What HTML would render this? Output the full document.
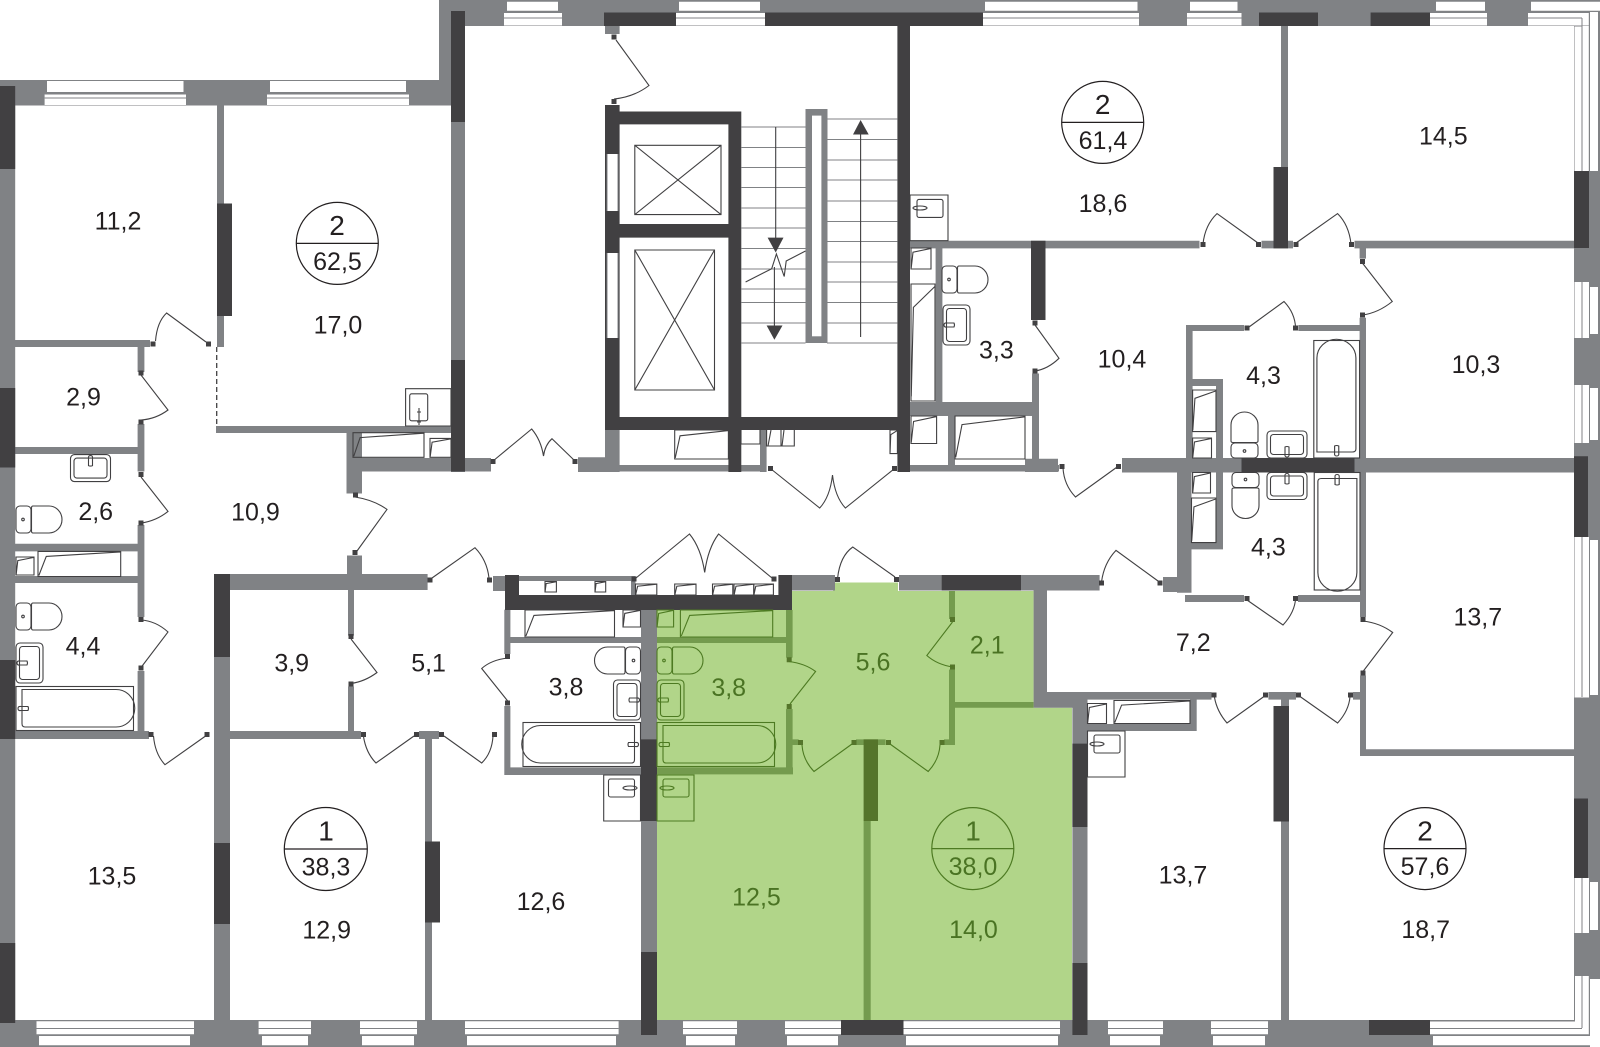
<!DOCTYPE html>
<html><head><meta charset="utf-8"><title>Floor plan</title>
<style>
html,body{margin:0;padding:0;background:#fff}
svg{display:block}
.l{fill:none;stroke:#414042;stroke-width:1.1}
.lg{fill:none;stroke:#4d7a22;stroke-width:1.1}
.gl{stroke:#808285;stroke-width:1;fill:none}
text{font-family:"Liberation Sans",Arial,sans-serif;font-size:25px;fill:#231f20;text-anchor:middle}
.n{font-size:28px}
.gt text{fill:#4a7323}
</style></head><body>
<svg width="1600" height="1047" viewBox="0 0 1600 1047" xmlns="http://www.w3.org/2000/svg">
<defs>
<symbol id="c" viewBox="0 0 100 100" preserveAspectRatio="none" overflow="visible">
<path vector-effect="non-scaling-stroke" d="M0 0H100V100H0ZM1 96L10 20L100 2"/>
</symbol>
<g id="t"><rect width="15" height="27" rx="4"/><path d="M17 0H33A13 13.5 0 0 1 33 27H17Q15.5 27 15.5 25V2Q15.5 0 17 0Z"/><circle cx="7" cy="13.5" r="1.3"/></g>
<g id="s"><rect width="27" height="40" rx="4"/><rect x="3.5" y="3.5" width="20" height="33" rx="3"/><path d="M1 20Q1 17.5 4 18H11Q12 20 11 22H4Q1 22.5 1 20Z"/></g>
<g id="b"><rect width="117.5" height="44"/><path d="M6 3H100A18.5 18.5 0 0 1 100 40.5H9Q6 40.5 6 37Z"/><path d="M2 22Q2 19.5 5 20H12Q13 22 12 24H5Q2 24.5 2 22Z"/></g>
</defs>
<rect width="1600" height="1047" fill="#fff"/>

<path fill="#b1d589" d="M657 610H792V591H833V582.5H898V591H1033.6V707.8H1072V1020H657Z"/>

<path fill="#808285" d="M0 80h451v25.5H0zM439 0h1161v26H439zM439 0h26v90h-26zM451 11h14v461h-14zM0 80h15.2v967H0zM1574 0h26v1047h-26zM0 1020h1600v27H0z
M217 105h7v242h-7zM15 340h135v7H15zM137.6 347h6.8v25h-6.8zM137.6 424h6.8v47.5h-6.8zM137.6 525h6.8v92h-6.8zM137.6 671h6.8v61h-6.8zM15 447h122.6v7H15zM15 543.7h122.6v7.7H15zM15 576h122.6v7H15zM15 731h134v8H15z
M214 574h16v446h-16zM230 574h197.6v16H230zM347 555.5h15V574h-15zM348 590h6v45.6h-6zM348 686.5h6v45h-6zM230 731h131v8H230zM419 731h20v8h-20zM425 739h7v281h-7z
M504.3 609.6h6.1V654h-6.1zM504.3 706h6.1v67h-6.1zM504.3 767.4h137v7.6h-137zM510 637h131.5v6H510zM493 576h12v15h-12zM519 576h116.5v5H519zM631 576h4.5v19H631zM641 610h16v410h-16z
M216 426h235v7H216zM346.5 433H362v60.5h-15.5zM346.5 458H491v13.5H346.5zM578 457.3h27V472h-27zM605 429h14.6v43H605zM619.6 465h147v6.5h-147zM760 430h6.6v42H760zM605 26h14.6v8H605zM805.5 109h22v234h-22z
M910 240.7h289.5v7.7H910zM935.6 248h6.8v154h-6.8zM910 402h125v14H910zM948 416h7v50h-7zM1032 373.5h7V472h-7zM910 465h149v6.5H910zM1025 458.7h33V472h-33zM1261.5 240.7h31.5v7.7h-31.5zM1281 26h7v141h-7zM1354.5 240.7H1574v7.7h-219.5z
M1359.6 248h6.4v10.6h-6.4zM1359.6 317.7h6.4V458h-6.4zM1186 325h58v6h-58zM1298.3 325h61.7v6h-61.7zM1186 325h6.6v133H1186zM1192.6 379H1223v7h-30.4zM1216 379h7v79h-7zM1122 458h452v14.500H1122zM1177 472h14.500v120.700H1177zM1163 577h28.5v15H1163zM1185 595h59v7h-59zM1298 595h62v7h-62zM1216 472h7v77.4h-7zM1191.5 542.6H1223v6.8h-31.5z
M1360 472h6v145h-6zM1360 675.5h6v80h-6zM1360 749.3h214v6.7h-214zM1033.6 692h177.900v7.600h-177.900zM1033.6 699h38.8v8.800h-38.800zM1268.4 692h27.6v7.600h-27.600zM1353 692h7v7.600h-7zM1281 699h8v321h-8zM1072.4 692h15.100v355h-15.100zM1087.5 724h109.2v7h-109.2zM1190 699.500h6.700V731H1190zM1033.6 575H1047v132.800h-13.400zM899 575h200.600v15.500H899zM792 575h43v15.500h-43z"/>

<path fill="#749b4e" d="M657 637h135v6H657zM657 767.4h136v7H657zM786 610h6.600v47.600H786zM786 709h6.600v65H786zM792.6 739.400h6.100V745h-6.100zM856 739.400h29.600V745H856zM863.6 821h7.100v199h-7.100zM944 739.400h11V745h-11zM949 591h6v28h-6zM949 669.500h6V745h-6zM955 702h78.600v5.800H955z"/>
<path fill="#55752b" d="M863.6 739.400H878V821h-14.400z"/>

<path fill="#fff" d="M507 1.7h51v9.100h-51zM679 1.7h81v9.100h-81zM985 1.7h152.500v9.100H985zM1190 1.7h47.500v9.100H1190zM1436 1.7h49v9.100h-49zM1531 1.7h69v9.100h-69z
M504 12.500h58v13h-58zM676 12.500h89v13h-89zM983 12.500h156v13H983zM1187 12.500h54.500v13H1187zM1430 12.500h57v13h-57zM1528 12.500h61v13h-61z
M47 81h136.500v11H47zM270 81h136v11H270zM44.6 94.300H186V105H44.6zM267 94.300h142V105H267z
M1574.5 26H1589v145h-14.500zM1590 12h8v159h-8zM1574.5 282H1589v56h-14.500zM1590 287h8v47h-8zM1574.5 385H1589v58h-14.500zM1590 388h8v52h-8zM1574.5 537H1589v160.500h-14.500zM1590 540h8v155h-8zM1574.5 878H1589v55h-14.500zM1590 882h8v48h-8zM1574.5 976H1589v58h-14.500zM1590 979h10v68h-10z
M36.5 1021.300H194v13H36.5zM258.6 1021.300H311v13h-52.400zM360 1021.300h57v13h-57zM465 1021.300h153.600v13H465zM683 1021.300h54v13h-54zM785 1021.300h56v13h-56zM903.5 1021.300H1060v13H903.500zM1108 1021.300h55v13h-55zM1211 1021.300h57v13h-57zM1430 1021.300h159v13h-159z
M39 1036h151v9.300H39zM262 1036h46v9.300h-46zM362 1036h52v9.300h-52zM467 1036h149v9.300H467zM686 1036h49v9.300h-49zM787 1036h51v9.300h-51zM906 1036h152v9.300H906zM1110 1036h50v9.300h-50zM1213 1036h52v9.300h-52zM1433 1036h167v9.300h-167z"/>
<path class="gl" d="M504 18h58M676 18h89M983 18h156M1187 18h54.500M1430 18h57M1528 18h54M504 12.500h58M676 12.500h89M983 12.500h156M1187 12.500h54.500M1430 12.500h57M1528 12.500h61
M44.6 98H186M267 98h142M44.6 94h141.400M267 94h142
M1582 18v153M1589.300 12v159M1582 282v56M1582 385v58M1582 537v160M1582 878v55M1582 976v52M1589.300 976v58M1574 26h8
M36.5 1028.500H194M258.6 1028.500H311M360 1028.500h57M465 1028.500h153.600M683 1028.500h54M785 1028.500h56M903.5 1028.500H1060M1108 1028.500h55M1211 1028.500h57M1430 1028.500h152M1430 1021h144.500v-45"/>

<path fill="#414042" d="M0 86h15.200v83H0zM0 388h15.200v79.500H0zM0 660h15.200v79H0zM0 943h15.200v80H0zM217 203.500h15V316h-15zM451 11h14v111h-14zM451 360h14v111.500h-14zM214 574h16v83h-16zM214 843h16v81h-16zM425 841.500h15v81h-15z
M604 12.500h72V26h-72zM765 12.500h218V26H765zM897.4 12.500H910V472h-12.600zM605 105h14.600v324H605zM605 111.500h136.300v12.900H605zM728.4 111.500h12.900V472h-12.900zM605 224h136.300v13.600H605zM605 417h305v13H605zM1031 240.700h14.500V320H1031zM1273.5 167H1288v81.400h-14.500zM1259 12.500h59V26h-59zM1370.6 12.500h59.400V26h-59.400zM1574 171h15v77h-15zM1241.5 458h113v14.500h-113zM1574 456.300h14V537h-14z
M1574 798.500h14v79.500h-14zM1369 1020h61v15h-61zM841 1020h62.500v15H841zM1273.5 706H1289v115.500h-15.500zM1072.4 743.600h15.100V827h-15.100zM1072.4 963h15.100v72h-15.100zM505 575h14v35h-14zM505 595h287v15H505zM778.4 575H792v20h-13.600zM641 739.400h16V821h-16zM641 952h16v83h-16zM941.7 575H1021v15.500h-79.300z"/>
<path fill="#fff" d="M607 154h11v57h-11zM607 253h11v85h-11z"/>
<path class="gl" d="M607 154v57M618 154v57M607 253v85M618 253v85"/>

<path class="gl" stroke="#6d6e71" d="M741 127h64.500M741 147.500h64.500M741 167.500h64.500M741 187.500h64.500M741 208h64.500M741 228h64.500M741 248.500h64.500M741 269h64.500M741 289h64.500M741 302.500h64.500M741 323h64.500M741 343h64.500M827 119h70.400M827 139.500h70.400M827 160h70.400M827 180h70.400M827 201h70.400M827 221.500h70.400M827 241.500h70.400M827 262h70.400M827 282h70.400M827 302.500h70.400M827 323h70.400M827 343h70.400"/>
<rect fill="#fff" x="812" y="115.600" width="9.400" height="220.700"/>
<path class="l" d="M860.6 126.800V337M775.7 127V240M774.4 267V328M745.6 282L771.700 268.700L776.400 254L784.200 276.500L786.200 261L805.500 251"/>
<path fill="#414042" d="M860.6 120L868.700 134.500H853ZM767.6 237.600H783.500L775.700 252.500ZM766.6 325.500H782.500L774.400 339.700Z"/>
<path class="l" d="M634.8 145.300H721V214.600H634.800ZM634.8 145.300L721 214.600M721 145.300L634.800 214.600M634.8 250H714.500V390H634.800ZM634.8 250L714.500 390M714.500 250L634.800 390"/>

<path fill="#414042" d="M150.5 341.500h5v5h-5zM206 341.500h5v5h-5zM138.5 370.500h5v5h-5zM138.5 419.500h5v5h-5zM138.5 472h5v5h-5zM138.5 520.500h5v5h-5zM138.5 617h5v5h-5zM138.5 665.500h5v5h-5zM148.5 732h5v5h-5zM204.5 732h5v5h-5zM353 492.500h5v5h-5zM352.5 550h5v5h-5zM490.5 459h5v5h-5zM572.5 459h5v5h-5zM611.5 34.500h5v5h-5zM611.5 99h5v5h-5zM768 466h5v5h-5zM892 466h5v5h-5zM1032.5 320.500h5v5h-5zM1032.5 368.500h5v5h-5zM1200.5 242h5v5h-5zM1256 242h5v5h-5zM1293.5 242h5v5h-5zM1349 242h5v5h-5zM1360 259h5v5h-5zM1360 312.500h5v5h-5zM1244.5 325.500h5v5h-5zM1293 325.500h5v5h-5zM1116 464h5v5h-5zM1059.5 464h5v5h-5zM1244.5 596h5v5h-5zM1293 596h5v5h-5zM1360.5 617h5v5h-5zM1360.5 670.500h5v5h-5zM1211.5 692.500h5v5h-5zM1263 692.500h5v5h-5zM1296 692.500h5v5h-5zM1348 692.500h5v5h-5zM1099 580.500h5v5h-5zM1157.5 580.500h5v5h-5zM835 577h5v5h-5zM894 577h5v5h-5zM631.5 576.500h5v5h-5zM771.5 576.500h5v5h-5zM427.5 577.500h5v5h-5zM487 577.500h5v5h-5zM348.5 634h5v5h-5zM348.5 681.500h5v5h-5zM505 654h5v5h-5zM505 700.500h5v5h-5zM361 732h5v5h-5zM414 732h5v5h-5zM439 732h5v5h-5zM492 732h5v5h-5z"/>
<path fill="#55752b" d="M786.7 657.300h5v5h-5zM786.7 704h5v5h-5zM798 740h5v5h-5zM851.5 740h5v5h-5zM886 740h5v5h-5zM939.5 740h5v5h-5zM950 617h5v5h-5zM950 664.500h5v5h-5z"/>

<path class="l" d="M206 342L166.600 313Q157 322 155.500 341M141 375L168 410Q156 419 141 420M141 477L168 511.400Q156 521 141 523M141 667.500L168 632Q156 621 141 620M207 735L165 764.700Q155 754 153.500 736M355 497Q374 500 387 509.400L357 551M493 461L531.700 429Q541 440 543.500 456Q545 445 552 438.700L575 461M616 40L649 85.500Q634 97 614 99M771 469L819.700 508Q830 497 832.500 475Q835 497 845.400 508L894 469M1035 325L1059 358.300Q1048 369 1035 371M1203 244Q1205 225 1217 213.600L1258 243M1296 243L1337.600 213.600Q1349 225 1351 244M1362.400 263L1392.300 301.500Q1378 313 1362.400 315M1249 327L1284 301.500Q1295 313 1295.600 328M1118.500 466L1075.500 497Q1064 485 1063 468M1247 600L1283 625Q1295 612 1295.600 598M1363 621Q1380 623 1392.700 632.500L1363 671.500M1214.500 697.500Q1217 711.500 1227 723L1264 696.500M1300 696.500L1337.600 723Q1349 710.500 1350 696.500M1101.500 582Q1104 563 1116 550.400L1158 581M837.600 578Q840 556 852.800 547L895 577M636 578L689.500 534Q701 548 704.700 572.400Q708 548 718.600 534L772 578M432 578L475 547.700Q487 560 489 578M351 639L377 672.500Q365 681.500 351 683.500M507.700 658Q491 660 481.700 668.500L507.700 701M363.400 736Q366 753 376 763L414 736M444 736L481.700 763Q492 753 493 736"/>
<path class="lg" d="M789 661.500Q805 663.500 815.600 671.500L790 704M852 744L814 771.500Q803 760 802 745M890 744L928.200 771.500Q939 760 940 745M952.500 622L926.800 655.500Q937 664.500 952.500 667"/>
<path d="M216.700 347V426" stroke="#414042" stroke-width="1.3" stroke-dasharray="5 3" fill="none"/>

<g class="l">
<use href="#c" x="353" y="432.7" width="71" height="24.6"/>
<use href="#c" x="430" y="438.4" width="21" height="18.9"/>
<use href="#c" x="674.7" y="430" width="53.7" height="29"/>
<path d="M741 430v14h19v-14M766.6 430v16h27.700v-16M781 430v16M771 430l-3 16M784 430l-2 16"/>
<use href="#c" x="890" y="430" width="7.4" height="23.6"/>
<use href="#c" x="911" y="248" width="20" height="21"/>
<use href="#c" x="911" y="284" width="24" height="117"/>
<use href="#c" x="911" y="416" width="25.6" height="27.5"/>
<use href="#c" x="955" y="416" width="70" height="43"/>
<use href="#c" x="1192.6" y="390" width="23.4" height="41.6"/>
<use href="#c" x="1192.6" y="438" width="18.9" height="20"/>
<use href="#c" x="1192.6" y="472.5" width="17.9" height="20.5"/>
<use href="#c" x="1191.5" y="498" width="24.5" height="44.6"/>
<use href="#c" x="1087.5" y="703.5" width="19" height="20"/>
<use href="#c" x="1114" y="700.5" width="76" height="23"/>
<use href="#c" x="16" y="557" width="18" height="18"/>
<use href="#c" x="38" y="551.4" width="82.7" height="25.1"/>
<use href="#c" x="525" y="610" width="89.5" height="27"/>
<use href="#c" x="623" y="610" width="17.5" height="17"/>
<use href="#c" x="545" y="581.5" width="11.4" height="10.5"/>
<use href="#c" x="595" y="581.5" width="10.7" height="10.5"/>
<use href="#c" x="635.5" y="584" width="21.3" height="11"/>
<use href="#c" x="674.7" y="584" width="21.3" height="11"/>
<use href="#c" x="712.5" y="584" width="20.3" height="11"/>
<use href="#c" x="734" y="584" width="19.8" height="11"/>
<use href="#c" x="753.8" y="584" width="19.6" height="11"/>
<use href="#t" transform="translate(16,506)"/>
<use href="#t" transform="translate(16,603)"/>
<use href="#t" transform="translate(942,266)"/>
<use href="#t" transform="translate(640.5,647) scale(-1,1)"/>
<use href="#t" transform="translate(1231,458) rotate(-90)"/>
<use href="#t" transform="translate(1259,472.5) rotate(90)"/>
<use href="#s" transform="translate(16,643)"/>
<use href="#s" transform="translate(943,305)"/>
<use href="#s" transform="translate(640.5,680) scale(-1,1)"/>
<use href="#s" transform="translate(110.5,454.6) rotate(90)"/>
<use href="#s" transform="translate(1267,458) rotate(-90)"/>
<use href="#s" transform="translate(1307,472.5) rotate(90)"/>
<use href="#b" transform="translate(16,686.5)"/>
<use href="#b" transform="translate(640.5,722.5) scale(-1,1)"/>
<use href="#b" transform="translate(1313.8,458) rotate(-90) scale(1,1.04)"/>
<use href="#b" transform="translate(1360,472.5) rotate(90) scale(1,1.04)"/>
<path d="M405.6 388.700H451V426h-45.400ZM419 408v17M417 412h4M417 422h4"/>
<rect x="409.7" y="393.8" width="18" height="27" rx="2"/>
<path d="M910 195h38v45.700h-38Z"/>
<rect x="917" y="199.4" width="26" height="18" rx="2"/>
<ellipse cx="920" cy="208" rx="7" ry="2"/>
<path d="M1087.5 731H1125v46h-37.500Z"/>
<rect x="1094" y="735" width="26" height="18" rx="2"/>
<ellipse cx="1097" cy="744" rx="7" ry="2"/>
<path d="M603.7 775h36.800v46h-36.800Z"/>
<rect x="608.5" y="779" width="26" height="18" rx="2"/>
<ellipse cx="630" cy="788" rx="7" ry="2"/>
</g>
<g class="lg">
<use href="#c" x="657" y="610" width="16.6" height="17"/>
<use href="#c" x="680.4" y="610" width="92.3" height="27"/>
<use href="#t" transform="translate(657,647)"/>
<use href="#s" transform="translate(657,680)"/>
<use href="#b" transform="translate(657,722.5)"/>
<path d="M657 775h37v46h-37Z"/>
<rect x="663" y="779" width="26" height="18" rx="2"/>
<ellipse cx="667" cy="788" rx="7" ry="2"/>
</g>

<g fill="none" stroke="#231f20" stroke-width="1.2">
<circle cx="337.3" cy="243.4" r="41"/><path d="M296.3 243.400h82"/>
<circle cx="1102.7" cy="122.4" r="41"/><path d="M1061.7 122.400h82"/>
<circle cx="325.8" cy="849" r="41.5"/><path d="M284.3 849h83"/>
<circle cx="1425" cy="848.6" r="41"/><path d="M1384 848.600h82"/>
</g>
<g fill="none" stroke="#4d7a22" stroke-width="1.2">
<circle cx="972.8" cy="848.6" r="41"/><path d="M931.8 848.600h82"/>
</g>

<text x="118" y="229.3">11,2</text>
<text x="338" y="333.6">17,0</text>
<text x="83.5" y="405.6">2,9</text>
<text x="95.7" y="520">2,6</text>
<text x="255.5" y="520.5">10,9</text>
<text class="n" x="337" y="235">2</text>
<text x="337.5" y="270">62,5</text>
<text x="996.4" y="358.3">3,3</text>
<text class="n" x="1102.7" y="114">2</text>
<text x="1103" y="149">61,4</text>
<text x="1443.3" y="144.6">14,5</text>
<text x="1103" y="212">18,6</text>
<text x="1122" y="367.7">10,4</text>
<text x="1476" y="373">10,3</text>
<text x="1263.5" y="384">4,3</text>
<text x="83" y="654.5">4,4</text>
<text x="291.7" y="671.5">3,9</text>
<text x="428.6" y="671.5">5,1</text>
<text x="112" y="884.7">13,5</text>
<text x="326.7" y="938.3">12,9</text>
<text class="n" x="326" y="840.7">1</text>
<text x="326" y="875.5">38,3</text>
<text x="566" y="695.5">3,8</text>
<text x="541" y="909.8">12,6</text>
<text x="1268.4" y="555.5">4,3</text>
<text x="1477.8" y="625.5">13,7</text>
<text x="1193.3" y="651">7,2</text>
<text x="1183" y="883.7">13,7</text>
<text x="1425.7" y="938">18,7</text>
<text class="n" x="1425" y="840.5">2</text>
<text x="1425" y="875">57,6</text>
<g class="gt">
<text x="728.7" y="696">3,8</text>
<text x="873" y="670.5">5,6</text>
<text x="987.3" y="653.5">2,1</text>
<text x="756.5" y="905.7">12,5</text>
<text x="973.5" y="938">14,0</text>
<text class="n" x="973" y="840.5">1</text>
<text x="973" y="875">38,0</text>
</g>
</svg>
</body></html>
